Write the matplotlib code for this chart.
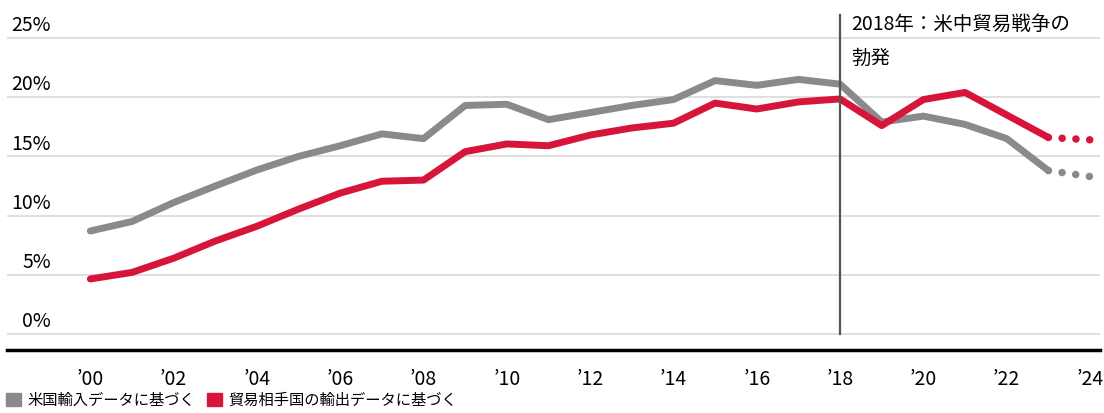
import matplotlib.pyplot as plt
from matplotlib.patches import Patch
from matplotlib.transforms import blended_transform_factory

plt.rcParams['font.family'] = ['Noto Sans CJK JP', 'DejaVu Sans']

# data (% share)
years = list(range(2000, 2024))
us_imports = [8.7, 9.5, 11.1, 12.5, 13.85, 15.0, 15.9, 16.9, 16.5, 19.3, 19.4, 18.1,
              18.7, 19.3, 19.8, 21.4, 21.0, 21.5, 21.1, 17.9, 18.4, 17.7, 16.5, 13.8]
partner_exports = [4.65, 5.2, 6.4, 7.85, 9.1, 10.55, 11.9, 12.9, 13.0, 15.4, 16.05, 15.9,
                   16.8, 17.4, 17.8, 19.5, 19.0, 19.6, 19.85, 17.6, 19.8, 20.4, 18.5, 16.6]
proj_years = [2023, 2024]
us_imports_proj = [13.8, 13.3]
partner_exports_proj = [16.6, 16.4]

xticks = list(range(2000, 2025, 2))
xlabels = ["’%02d" % (y % 100) for y in xticks]
yticks = [0, 5, 10, 15, 20, 25]
ylabels = ["%d%%" % v for v in yticks]

gray = "#8a8a8c"
red = "#d7143a"

fig = plt.figure(figsize=(11.04, 4.13), dpi=100)
ax = fig.add_axes([7/1104, 1 - 350/413, 1093/1104, 342/413])

for v in yticks:
    ax.axhline(v, color="#d9d9d9", linewidth=1.2, zorder=1)

ax.plot(years, us_imports, color=gray, linewidth=5, solid_joinstyle="round",
        solid_capstyle="round", zorder=3)
ax.plot(years, partner_exports, color=red, linewidth=5, solid_joinstyle="round",
        solid_capstyle="round", zorder=4)
ax.plot(proj_years, us_imports_proj, color=gray, linewidth=5.4, linestyle=(0, (0.01, 1.83)),
        dash_capstyle="round", zorder=3)
ax.plot(proj_years, partner_exports_proj, color=red, linewidth=5.4, linestyle=(0, (0.01, 1.83)),
        dash_capstyle="round", zorder=4)

ax.plot([2018, 2018], [0, 26.9], color="#555555", linewidth=1.6, zorder=5)
ax.text(2018.27, 27.05, "2018年：米中貿易戦争の", fontsize=14, va="top", ha="left")
ax.text(2018.27, 24.15, "勃発", fontsize=14, va="top", ha="left")

ax.set_xlim(1998.0, 2024.24)
ax.set_ylim(-1.35, 27.53)

ax.set_yticks([])
trans = blended_transform_factory(ax.transAxes, ax.transData)
for v, lab in zip(yticks, ylabels):
    ax.text(44/1093, v + 0.15, lab, transform=trans, fontsize=14, ha="right", va="bottom")

ax.set_xticks(xticks)
ax.set_xticklabels(xlabels, fontsize=14)
ax.tick_params(axis="x", length=0, pad=14)

for s in ["top", "left", "right"]:
    ax.spines[s].set_visible(False)
ax.spines["bottom"].set_linewidth(2.5)
ax.spines["bottom"].set_color("black")

handles = [Patch(color=gray, label="米国輸入データに基づく"),
           Patch(color=red, label="貿易相手国の輸出データに基づく")]
fig.legend(handles=handles, loc="lower left", bbox_to_anchor=(-0.003, -0.012), ncol=2,
           frameon=False, fontsize=11, handlelength=1.0, handleheight=1.0,
           handletextpad=0.4, columnspacing=0.8, borderpad=0.1)

fig.savefig("out.png", dpi=100)
